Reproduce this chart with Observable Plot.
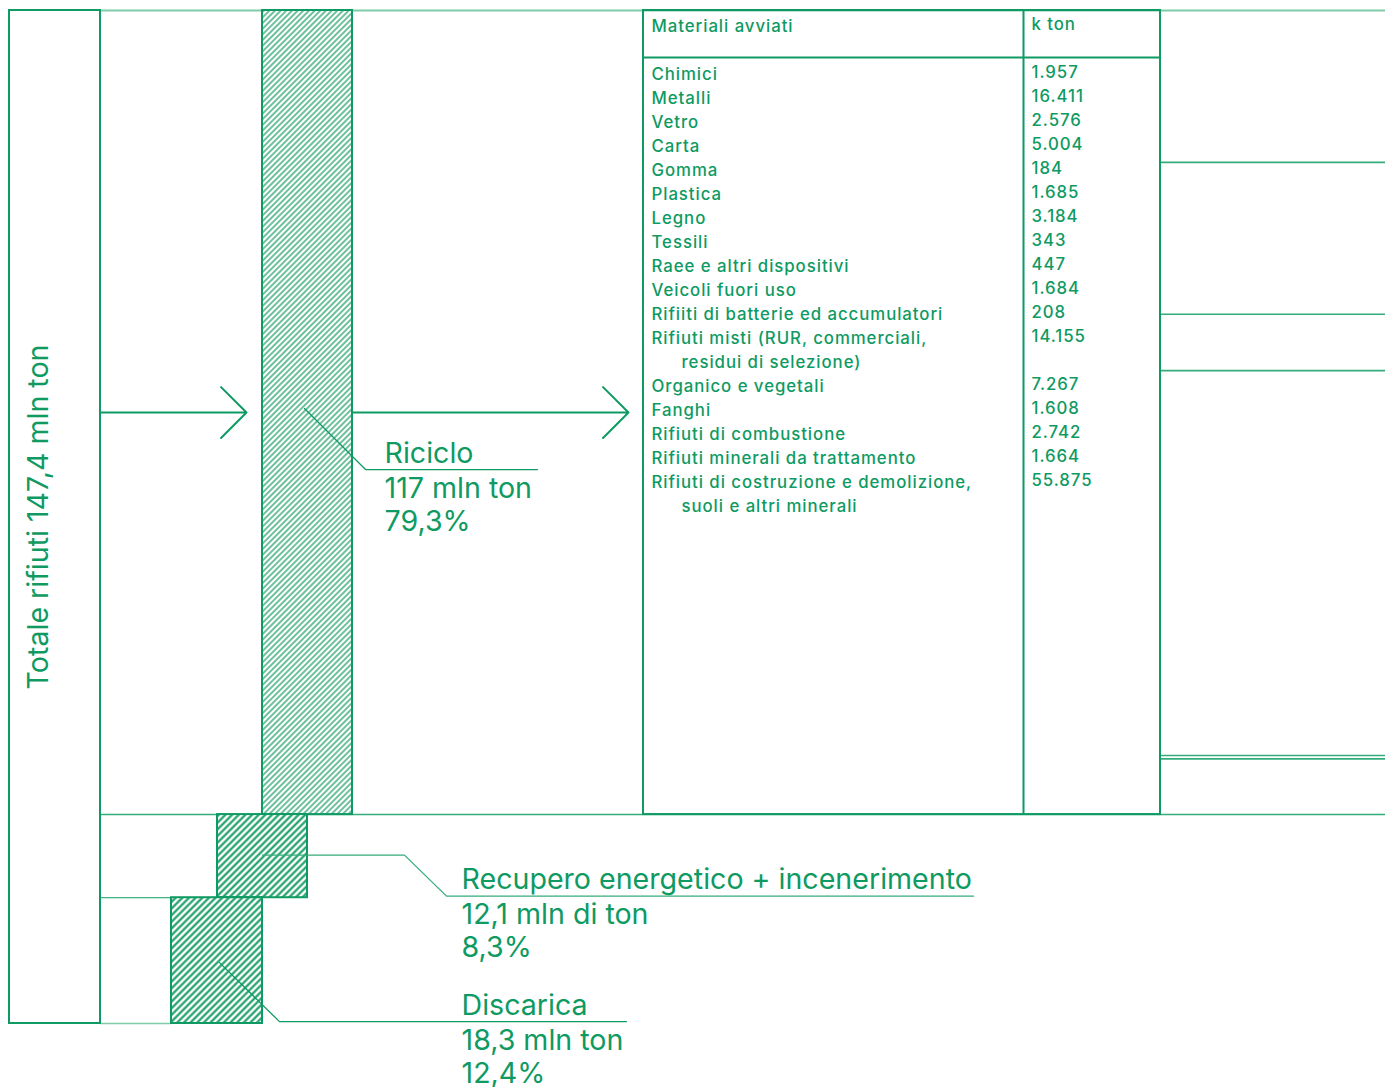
<!DOCTYPE html>
<html><head><meta charset="utf-8">
<script src="https://cdn.jsdelivr.net/npm/d3@7"></script>
<script src="https://cdn.jsdelivr.net/npm/@observablehq/plot@0.6"></script>
<style>
html,body{margin:0;padding:0;background:#fff;}
#chart{position:relative;width:1385px;height:1087px;overflow:hidden;background:#fff;}
#chart svg{position:absolute;left:0;top:0;}
.tbl text{letter-spacing:0.95px;}
</style></head><body><div id="chart"></div>
<script>
// ---------------- DATA ----------------
const totalLabel = "Totale rifiuti 147,4 mln ton";
const totalValue = 147.4; // mln ton
const flowNames = ["Riciclo", "Recupero energetico + incenerimento", "Discarica"];
const flowValues = [117, 12.1, 18.3]; // mln ton
const flowAmountLabels = ["117 mln ton", "12,1 mln di ton", "18,3 mln ton"];
const flowShareLabels = ["79,3%", "8,3%", "12,4%"];

const tableHeaders = ["Materiali avviati", "k ton"];
const materials = [
  "Chimici", "Metalli", "Vetro", "Carta", "Gomma", "Plastica", "Legno", "Tessili",
  "Raee e altri dispositivi", "Veicoli fuori uso", "Rifiiti di batterie ed accumulatori",
  "Rifiuti misti (RUR, commerciali,\nresidui di selezione)",
  "Organico e vegetali", "Fanghi", "Rifiuti di combustione",
  "Rifiuti minerali da trattamento",
  "Rifiuti di costruzione e demolizione,\nsuoli e altri minerali"
];
const materialValues = [1957, 16411, 2576, 5004, 184, 1685, 3184, 343, 447, 1684, 208, 14155, 7267, 1608, 2742, 1664, 55875]; // k ton

// breaks of the (cropped) stacked column at the right edge, mln ton from the top
const rightBreaks = [22.1, 44.2, 52.4, 108.4, 108.9];

// ---------------- STYLE / LAYOUT ----------------
const W = 1385, H = 1087;
const TOP = 10, BOTTOM = 1023;
const DARK = "#0e9a62", MID = "#35ac7b", LIGHT = "#7fcca9";
const k = (BOTTOM - TOP) / totalValue;       // px per mln ton
const off = px => px / k;                    // pixel offset -> data units

const flowLayout = [
  {x1: 262, x2: 352, pattern: "url(#hatchA)", lead: [[304, -4], [365, 57], [537, 57]], textX: 384, leadEnd: 57, leadColor: DARK},
  {x1: 217, x2: 307, pattern: "url(#hatchB)", lead: [[262, -1], [404, -1], [446, 40], [973, 40]], textX: 461, leadEnd: 40, leadColor: MID},
  {x1: 171, x2: 262, pattern: "url(#hatchB)", lead: [[219, 2], [279, 61], [626, 61]], textX: 461, leadEnd: 61, leadColor: DARK}
];

const ends = d3.cumsum(flowValues);
const flows = flowNames.map((name, i) => ({
  name, value: flowValues[i], amount: flowAmountLabels[i], share: flowShareLabels[i],
  y1: ends[i] - flowValues[i], y2: ends[i], mid: ends[i] - flowValues[i] / 2,
  ...flowLayout[i]
}));
const leaders = flows.flatMap(f => f.lead.map(([x, dy]) => ({flow: f.name, color: f.leadColor, x, y: f.mid + off(dy)})));
const labelAnchors = flows.map(f => ({...f, ly: f.mid + off(f.leadEnd)}));
const ricMid = flows[0].mid;

const font = "Inter, 'Noto Sans', sans-serif";
const LBL = 28.6;

// ---------------- MAIN FLOW PLOT ----------------
const main = Plot.plot({
  width: W, height: H, margin: 0,
  x: {type: "identity", axis: null},
  y: {domain: [0, totalValue], range: [TOP, BOTTOM], axis: null},
  color: {type: "identity"},
  marks: [
    // guide lines
    Plot.ruleY([0], {x1: 100, x2: W, stroke: LIGHT, strokeWidth: 2}),
    Plot.ruleY([ends[0]], {x1: 100, x2: W, stroke: MID, strokeWidth: 1.5}),
    Plot.ruleY([ends[1]], {x1: 100, x2: 217, stroke: DARK, strokeWidth: 1.2}),
    Plot.ruleY([ends[2]], {x1: 100, x2: 171, stroke: LIGHT, strokeWidth: 1.5}),
    Plot.ruleY(rightBreaks, {x1: 1160, x2: W, stroke: MID, strokeWidth: 1.6}),
    // total box
    Plot.rect([totalValue], {x1: 9, x2: 100, y1: 0, y2: d => d, fill: "none", stroke: DARK, strokeWidth: 2}),
    Plot.text([totalLabel], {x: 47, y: totalValue / 2, rotate: -90, text: d => d, lineAnchor: "bottom", textAnchor: "middle",
      fill: DARK, fontSize: 28.6, fontWeight: 400, fontFamily: font}),
    // table frame
    Plot.rect([ends[0]], {x1: 643, x2: 1160, y1: 0, y2: d => d, fill: "none", stroke: DARK, strokeWidth: 2}),
    Plot.ruleX([1023], {y1: 0, y2: ends[0], stroke: DARK, strokeWidth: 2}),
    Plot.ruleY([off(47)], {x1: 643, x2: 1160, stroke: DARK, strokeWidth: 2}),
    // flow bars
    Plot.rect(flows, {x1: "x1", x2: "x2", y1: "y1", y2: "y2", fill: "pattern", stroke: DARK, strokeWidth: 2}),
    // arrows
    Plot.arrow([{a: 100, b: 246}, {a: 352, b: 628}], {x1: "a", x2: "b", y1: () => ricMid, y2: () => ricMid,
      stroke: DARK, strokeWidth: 2, headAngle: 90, headLength: 27}),
    // leader lines
    Plot.line(leaders, {x: "x", y: "y", z: "flow", stroke: "color", strokeWidth: 1.3}),
    // labels
    Plot.text(labelAnchors, {x: "textX", y: "ly", text: "name", dy: -7, textAnchor: "start", lineAnchor: "bottom",
      fill: DARK, fontSize: LBL, fontFamily: font}),
    Plot.text(labelAnchors, {x: "textX", y: "ly", text: "amount", dy: 28, textAnchor: "start", lineAnchor: "bottom",
      fill: DARK, fontSize: LBL, fontFamily: font}),
    Plot.text(labelAnchors, {x: "textX", y: "ly", text: "share", dy: 61, textAnchor: "start", lineAnchor: "bottom",
      fill: DARK, fontSize: LBL, fontFamily: font})
  ]
});

// hatch patterns
const defs = d3.select(main).insert("defs", ":first-child");
function hatch(id, size, sw, color) {
  const p = defs.append("pattern").attr("id", id).attr("patternUnits", "userSpaceOnUse")
    .attr("width", size).attr("height", size).attr("patternTransform", "rotate(45)");
  p.append("rect").attr("width", size).attr("height", size).attr("fill", "#fff");
  p.append("line").attr("x1", size / 2).attr("x2", size / 2).attr("y1", 0).attr("y2", size)
    .attr("stroke", color).attr("stroke-width", sw);
}
hatch("hatchA", 4.0, 1.3, "#1f9e69");
hatch("hatchB", 4.7, 2.1, "#149b63");

// ---------------- TABLE TEXT PLOT ----------------
const lines = [];
materials.forEach((m, i) => {
  m.split("\n").forEach((t, j) => lines.push({text: t, cont: j > 0, value: j === 0 ? materialValues[i] : null}));
});
lines.forEach((d, i) => d.row = i);
const it = d3.formatLocale({decimal: ",", thousands: ".", grouping: [3], currency: ["", "€"]});
const fmt = it.format(",");
const TF = 16.8;

const table = Plot.plot({
  width: W, height: H, margin: 0, className: "tbl",
  style: {background: "transparent"},
  x: {type: "identity", axis: null},
  y: {domain: [0, 1], range: [79.5, 103.5], axis: null},
  marks: [
    Plot.text([tableHeaders[0]], {x: 651, y: -2, text: d => d, textAnchor: "start", lineAnchor: "bottom",
      fill: DARK, fontSize: TF, fontWeight: 500, fontFamily: font}),
    Plot.text([tableHeaders[1]], {x: 1031, y: -2, dy: -2, text: d => d, textAnchor: "start", lineAnchor: "bottom",
      fill: DARK, fontSize: TF, fontWeight: 500, fontFamily: font}),
    Plot.text(lines, {x: d => d.cont ? 681 : 651, y: "row", text: "text", textAnchor: "start", lineAnchor: "bottom",
      fill: DARK, fontSize: TF, fontWeight: 500, fontFamily: font}),
    Plot.text(lines.filter(d => d.value != null), {x: 1031, y: "row", dy: -2, text: d => fmt(d.value), textAnchor: "start", lineAnchor: "bottom",
      fill: DARK, fontSize: TF, fontWeight: 500, fontFamily: font})
  ]
});

document.getElementById("chart").append(main, table);
</script>
</body></html>
